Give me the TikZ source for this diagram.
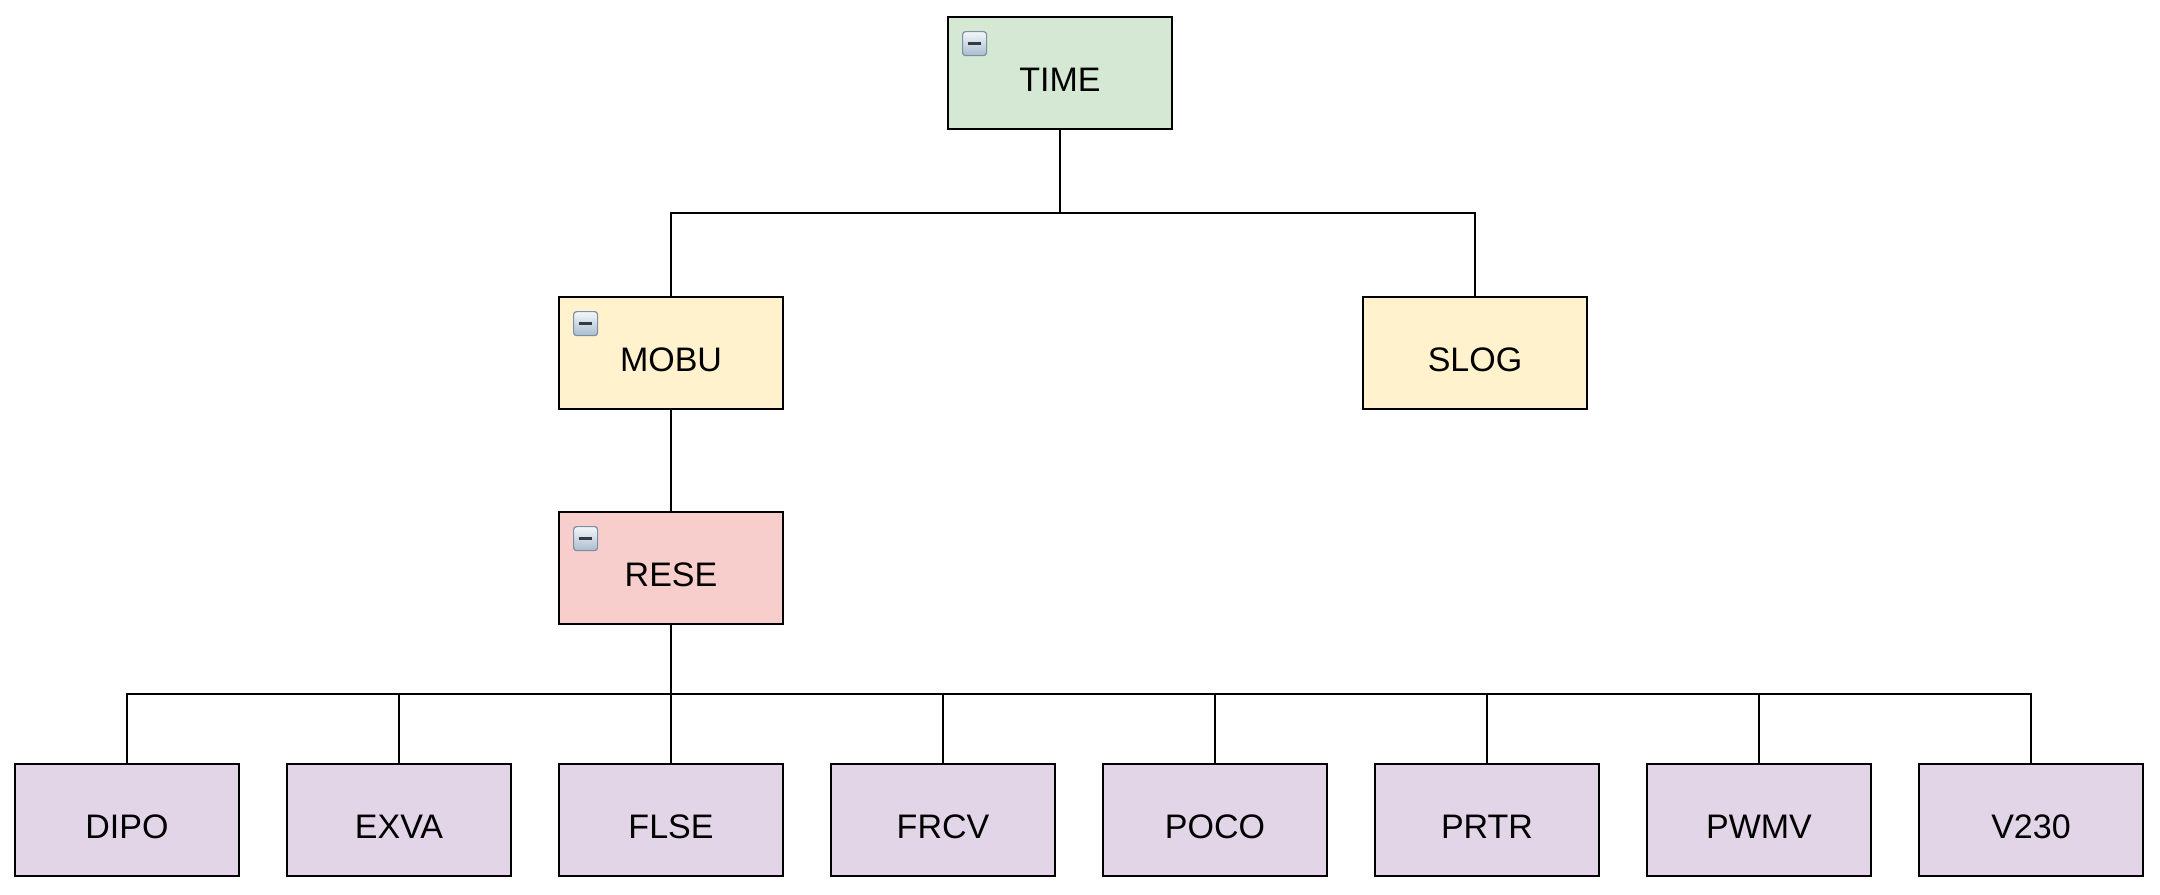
\documentclass[tikz,border=0pt]{standalone}
\usepackage{fontspec}
\setmainfont{Liberation Sans}
\definecolor{cgreen}{HTML}{D5E8D4}
\definecolor{cyellow}{HTML}{FFF2CC}
\definecolor{cred}{HTML}{F8CECC}
\definecolor{cpurple}{HTML}{E1D5E7}
\definecolor{iconedge}{HTML}{7A8EA6}
\definecolor{icontop}{HTML}{F4F7FA}
\definecolor{iconbot}{HTML}{A9BBCE}
\definecolor{iconbar}{HTML}{333A44}
\begin{document}
\begin{tikzpicture}[x=0.5pt,y=-0.5pt,
  box/.style={draw=black, line width=1.35pt, minimum width=112pt, minimum height=56pt,
    inner sep=0pt, outer sep=0pt, text height=18pt, text depth=0pt,
    font=\fontsize{17}{19}\selectfont},
  conn/.style={draw=black, line width=1.25pt},
  icon/.style={draw=iconedge, line width=0.6pt, rounded corners=1.5pt, minimum size=12pt,
    inner sep=0pt, anchor=north west, top color=icontop, bottom color=iconbot,
    path picture={\draw[iconbar, line width=1.6pt] ([xshift=2.6pt]path picture bounding box.west) -- ([xshift=-2.6pt]path picture bounding box.east);}}
]
\useasboundingbox (0,0) rectangle (2160,895);

\node[box, fill=cgreen] (TIME) at (1060,73) {TIME};
\node[box, fill=cyellow] (MOBU) at (671,353) {MOBU};
\node[box, fill=cyellow] (SLOG) at (1475,353) {SLOG};
\node[box, fill=cred] (RESE) at (671,568) {RESE};

\node[box, fill=cpurple] (DIPO) at (127,820) {DIPO};
\node[box, fill=cpurple] (EXVA) at (399,820) {EXVA};
\node[box, fill=cpurple] (FLSE) at (671,820) {FLSE};
\node[box, fill=cpurple] (FRCV) at (943,820) {FRCV};
\node[box, fill=cpurple] (POCO) at (1215,820) {POCO};
\node[box, fill=cpurple] (PRTR) at (1487,820) {PRTR};
\node[box, fill=cpurple] (PWMV) at (1759,820) {PWMV};
\node[box, fill=cpurple] (V230) at (2031,820) {V230};

\node[icon] (iTIME) at ([xshift=7pt,yshift=-7pt]TIME.north west) {};
\node[icon] (iMOBU) at ([xshift=7pt,yshift=-7pt]MOBU.north west) {};
\node[icon] (iRESE) at ([xshift=7pt,yshift=-7pt]RESE.north west) {};

\coordinate (bus1) at (1060,213);
\coordinate (bus2) at (671,694);

\draw[conn] (TIME.south) -- (TIME.south |- bus1);
\draw[conn] (TIME.south |- bus1) -| (MOBU.north);
\draw[conn] (TIME.south |- bus1) -| (SLOG.north);
\draw[conn] (MOBU.south) -- (RESE.north);
\draw[conn] (RESE.south) -- (FLSE.north);
\foreach \n in {DIPO,EXVA,FRCV,POCO,PRTR,PWMV,V230}{
  \draw[conn] (RESE.south |- bus2) -| (\n.north);
}
\end{tikzpicture}
\end{document}
